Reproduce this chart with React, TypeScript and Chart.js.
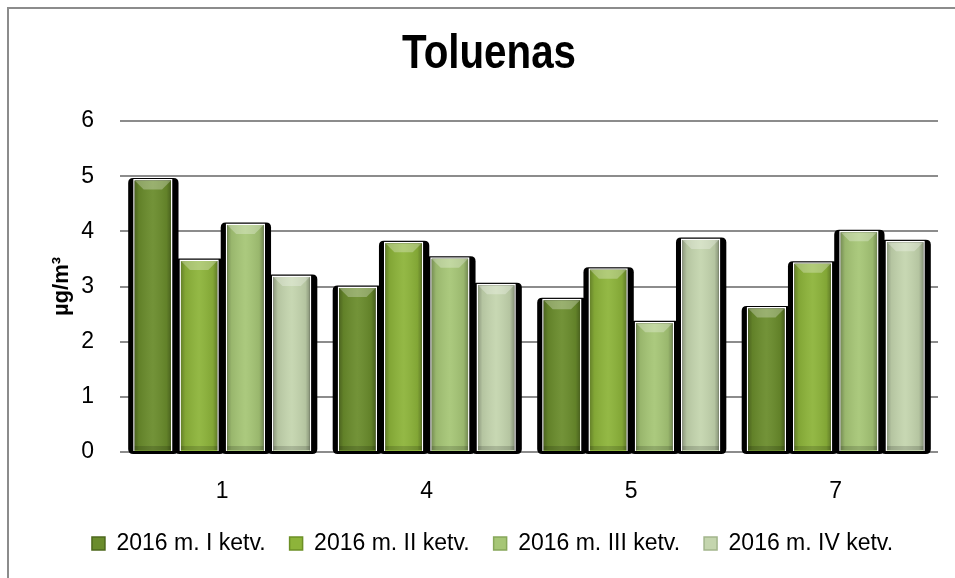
import React, { useEffect, useRef } from "react";
import { Chart, registerables } from "chart.js";

Chart.register(...registerables);

const categories = ["1", "4", "5", "7"];
const seriesNames = [
  "2016 m. I ketv.",
  "2016 m. II ketv.",
  "2016 m. III ketv.",
  "2016 m. IV ketv.",
];
const q1 = [4.95, 3.0, 2.78, 2.63];
const q2 = [3.49, 3.81, 3.33, 3.44];
const q3 = [4.14, 3.53, 2.36, 4.01];
const q4 = [3.2, 3.05, 3.87, 3.83];
const colors = ["#6a8c2c", "#8db43a", "#a6c676", "#c4d5ae"];
const edgeColors = ["#4d681c", "#6c9026", "#87a75a", "#a2b58c"];
const titleText = "Toluenas";
const yTitle = "µg/m³";
const yMin = 0;
const yMax = 6;
const yStep = 1;

const SANS = "'Liberation Sans', Arial, sans-serif";

function roundRect(ctx: CanvasRenderingContext2D, x: number, y: number, w: number, h: number, r: number) {
  ctx.beginPath();
  ctx.moveTo(x + r, y);
  ctx.lineTo(x + w - r, y);
  ctx.quadraticCurveTo(x + w, y, x + w, y + r);
  ctx.lineTo(x + w, y + h - r);
  ctx.quadraticCurveTo(x + w, y + h, x + w - r, y + h);
  ctx.lineTo(x + r, y + h);
  ctx.quadraticCurveTo(x, y + h, x, y + h - r);
  ctx.lineTo(x, y + r);
  ctx.quadraticCurveTo(x, y, x + r, y);
  ctx.closePath();
}

const bevelPlugin = {
  id: "bevelShadow",
  beforeDatasetsDraw(chart: any) {
    const ctx = chart.ctx as CanvasRenderingContext2D;
    ctx.save();
    chart.data.datasets.forEach((_d: any, i: number) => {
      const meta = chart.getDatasetMeta(i);
      meta.data.forEach((bar: any) => {
        const { x, y, base, width } = bar.getProps(["x", "y", "base", "width"], true);
        const l = x - width / 2;
        ctx.fillStyle = "#000";
        roundRect(ctx, l - 5, y - 1, width + 11, base - y + 4, 5);
        ctx.fill();
      });
    });
    ctx.restore();
  },
  afterDatasetsDraw(chart: any) {
    const ctx = chart.ctx as CanvasRenderingContext2D;
    ctx.save();
    chart.data.datasets.forEach((_d: any, i: number) => {
      const meta = chart.getDatasetMeta(i);
      meta.data.forEach((bar: any) => {
        const { x, y, base, width } = bar.getProps(["x", "y", "base", "width"], true);
        const l = x - width / 2 + 1.5;
        const r = x + width / 2 - 1.5;
        const t = y + 1.5;
        const b = base - 1;
        const w = r - l;
        const g = ctx.createLinearGradient(l, 0, r, 0);
        g.addColorStop(0, "rgba(0,0,0,0.28)");
        g.addColorStop(0.12, "rgba(0,0,0,0.08)");
        g.addColorStop(0.5, "rgba(255,255,255,0.06)");
        g.addColorStop(0.88, "rgba(0,0,0,0.08)");
        g.addColorStop(1, "rgba(0,0,0,0.3)");
        ctx.fillStyle = g;
        ctx.fillRect(l, t, w, b - t);
        const bev = 9;
        ctx.beginPath();
        ctx.moveTo(l, t);
        ctx.lineTo(r, t);
        ctx.lineTo(r - bev, t + bev);
        ctx.lineTo(l + bev, t + bev);
        ctx.closePath();
        ctx.fillStyle = "rgba(255,255,255,0.28)";
        ctx.fill();
        ctx.fillStyle = "rgba(0,0,0,0.15)";
        ctx.fillRect(l, b - 4, w, 4);
      });
    });
    ctx.restore();
  },
  afterDraw(chart: any) {
    const ctx = chart.ctx as CanvasRenderingContext2D;
    ctx.save();
    ctx.font = `bold 48px ${SANS}`;
    ctx.fillStyle = "#000";
    ctx.textAlign = "center";
    ctx.textBaseline = "alphabetic";
    ctx.translate(489, 68);
    ctx.scale(0.84, 1);
    ctx.fillText(titleText, 0, 0);
    ctx.restore();
  },
};

export default function App() {
  const ref = useRef<HTMLCanvasElement>(null);
  useEffect(() => {
    if (!ref.current) return;
    const seriesData = [q1, q2, q3, q4];
    const chart = new Chart(ref.current, {
      type: "bar",
      data: {
        labels: categories,
        datasets: seriesData.map((d, i) => ({
          label: seriesNames[i],
          data: d,
          backgroundColor: colors[i],
          borderColor: "#ffffff",
          borderWidth: 1.5,
          barPercentage: 0.85,
          categoryPercentage: 0.905,
        })),
      },
      options: {
        responsive: false,
        animation: false,
        layout: { padding: { left: 47, right: 17, top: 121, bottom: 13 } },
        plugins: {
          title: { display: false },
          legend: {
            position: "bottom",
            labels: {
              color: "#000",
              font: { family: SANS, size: 23 },
              boxWidth: 13,
              boxHeight: 13,
              padding: 24,
              generateLabels: (c: any) =>
                c.data.datasets.map((ds: any, i: number) => ({
                  text: ds.label,
                  fillStyle: colors[i],
                  strokeStyle: edgeColors[i],
                  lineWidth: 1.5,
                  datasetIndex: i,
                  hidden: false,
                  fontColor: "#000",
                })),
            },
          },
          tooltip: { enabled: false },
        },
        scales: {
          x: {
            grid: { display: false, drawTicks: false },
            border: { display: false },
            ticks: { color: "#000", font: { family: SANS, size: 23 }, padding: 26 },
            afterFit: (s: any) => {
              s.height = 56;
            },
          },
          y: {
            min: yMin,
            max: yMax,
            afterFit: (s: any) => {
              s.width = 73;
            },
            ticks: { stepSize: yStep, color: "#000", font: { family: SANS, size: 23 }, padding: 26 },
            grid: { color: "#8c8c8c", lineWidth: 2, drawTicks: false },
            border: { display: false },
            title: {
              display: true,
              text: yTitle,
              color: "#000",
              font: { family: SANS, size: 22, weight: "bold" },
              padding: { top: 2, bottom: 0 },
            },
          },
        },
      },
      plugins: [bevelPlugin],
    });
    return () => chart.destroy();
  }, []);
  return (
    <div style={{ position: "absolute", left: 0, top: 0, width: 955, height: 578, overflow: "hidden", background: "#fff" }}>
      <div
        style={{
          position: "absolute",
          left: 7,
          top: 7,
          width: 2000,
          height: 2000,
          borderLeft: "2px solid #8c8c8c",
          borderTop: "2px solid #8c8c8c",
        }}
      />
      <canvas ref={ref} width={955} height={578} style={{ position: "absolute", left: 0, top: 0 }} />
    </div>
  );
}
